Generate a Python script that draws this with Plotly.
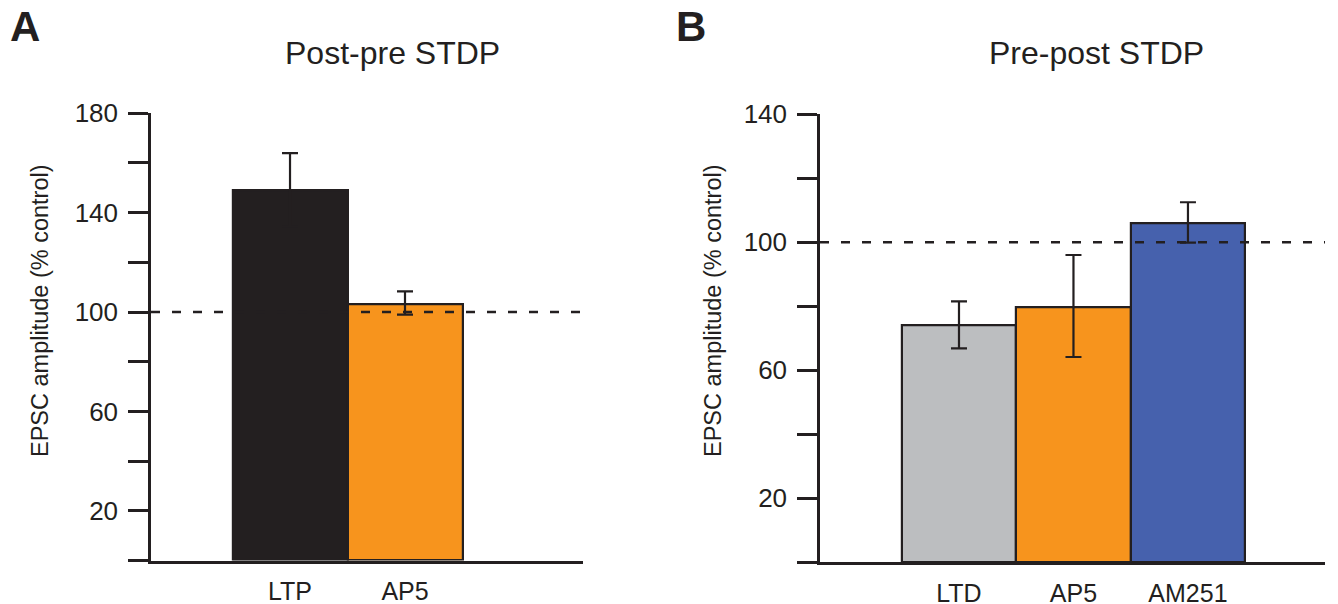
import plotly.graph_objects as go

# ---- data ----
cats_a = ["LTP", "AP5"]
vals_a = [149.2, 103.2]
err_a_plus = [14.8, 5.1]
err_a_minus = [14.8, 4.2]
colors_a = ["#231f20", "#f7941d"]

cats_b = ["LTD", "AP5", "AM251"]
vals_b = [73.9, 79.6, 105.8]
err_b_plus = [7.6, 16.4, 6.7]
err_b_minus = [7.1, 15.5, 5.9]
colors_b = ["#bcbec0", "#f7941d", "#4661ad"]

yticks_a = [0, 20, 40, 60, 80, 100, 120, 140, 160, 180]
yticklabels_a = ["", "20", "", "60", "", "100", "", "140", "", "180"]
yticks_b = [0, 20, 40, 60, 80, 100, 120, 140]
yticklabels_b = ["", "20", "", "60", "", "100", "", "140"]

title_a = "Post-pre STDP"
title_b = "Pre-post STDP"
ytitle = "EPSC amplitude (% control)"
baseline = 100

INK = "#231f20"
FONT = "Liberation Sans, Arial, Helvetica, sans-serif"
OFF = 8  # page body margin
W, H = 1338 - OFF, 604 - OFF

def px_x(x):
    return (x - OFF) / W

def px_y(y):
    return (H - (y - OFF)) / H

fig = go.Figure()

fig.add_trace(go.Bar(
    x=cats_a, y=vals_a, xaxis="x", yaxis="y",
    marker=dict(color=colors_a, line=dict(color=INK, width=2.2)),
    width=1.0,
    error_y=dict(type="data", symmetric=False, array=err_a_plus, arrayminus=err_a_minus,
                 color=INK, thickness=2.2, width=8),
    showlegend=False,
))
fig.add_trace(go.Bar(
    x=cats_b, y=vals_b, xaxis="x2", yaxis="y2",
    marker=dict(color=colors_b, line=dict(color=INK, width=2.2)),
    width=1.0,
    error_y=dict(type="data", symmetric=False, array=err_b_plus, arrayminus=err_b_minus,
                 color=INK, thickness=2.2, width=8),
    showlegend=False,
))

axis_common = dict(showline=True, linecolor=INK, linewidth=2.5, showgrid=False,
                   zeroline=False, automargin=False)

fig.update_layout(
    width=W, height=H,
    margin=dict(l=0, r=0, t=0, b=0, autoexpand=False),
    paper_bgcolor="white", plot_bgcolor="white",
    font=dict(family=FONT, color=INK),
    bargap=0,
    xaxis=dict(domain=[px_x(151), px_x(583)], anchor="y", type="category",
               categoryorder="array", categoryarray=cats_a,
               range=[-1.209, 2.548], ticks="", tickfont=dict(size=25),
               ticklabelstandoff=7, **axis_common),
    yaxis=dict(domain=[px_y(560.5), px_y(113.3)], anchor="x", range=[0, 180],
               tickvals=yticks_a, ticktext=yticklabels_a, ticks="outside", ticklen=20,
               tickwidth=2.5, tickcolor=INK, tickfont=dict(size=26),
               ticklabelstandoff=5, **axis_common),
    xaxis2=dict(domain=[px_x(820), px_x(1325)], anchor="y2", type="category",
                categoryorder="array", categoryarray=cats_b,
                range=[-1.214, 3.197], ticks="", tickfont=dict(size=25),
                ticklabelstandoff=7, **axis_common),
    yaxis2=dict(domain=[px_y(562), px_y(114.3)], anchor="x2", range=[0, 140],
                tickvals=yticks_b, ticktext=yticklabels_b, ticks="outside", ticklen=20,
                tickwidth=2.5, tickcolor=INK, tickfont=dict(size=26),
                ticklabelstandoff=5, **axis_common),
)

# dashed baseline at 100 %
for xr, yr in (("x domain", "y"), ("x2 domain", "y2")):
    fig.add_shape(type="line", xref=xr, yref=yr, x0=0, x1=1, y0=baseline, y1=baseline,
                  line=dict(color=INK, width=2.5, dash="9px,12px"), layer="above")

def label(text, x, y, size, angle=0, **kw):
    return dict(text=text, x=px_x(x), y=px_y(y), xref="paper", yref="paper",
                xanchor="center", yanchor="middle", showarrow=False, textangle=angle,
                font=dict(size=size, color=INK, family=FONT), **kw)

ann = [
    label("<b>A</b>", 25, 26, 42, height=34, valign="middle"),
    label("<b>B</b>", 691, 26, 42, height=34, valign="middle"),
    label(title_a, 392, 53, 32),
    label(title_b, 1096, 53, 32),
    label(ytitle, 40, 311, 23.5, -90),
    label(ytitle, 713, 311, 23.5, -90),
]
fig.update_layout(annotations=ann)

fig.write_html("out.html")
